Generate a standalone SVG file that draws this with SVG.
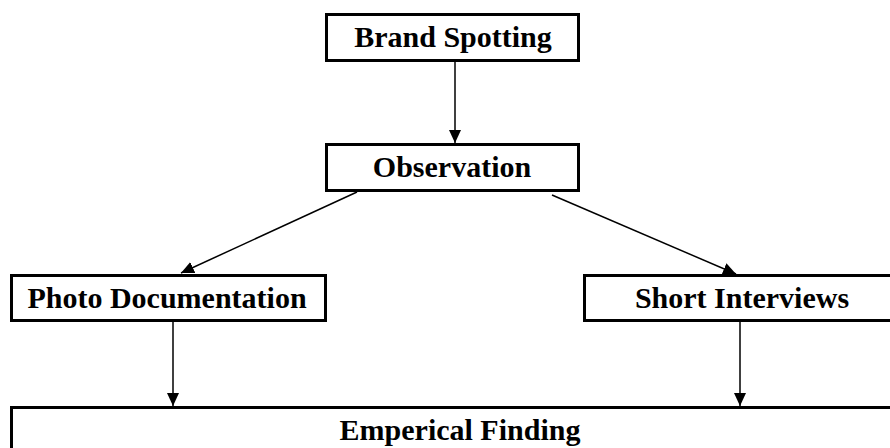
<svg xmlns="http://www.w3.org/2000/svg" width="890" height="448" viewBox="0 0 890 448">
<style>
.box{fill:#fff;stroke:#000;stroke-width:3}
.lbl{font-family:"Liberation Serif","Times New Roman",serif;font-weight:bold;font-size:30px;fill:#000;text-anchor:middle}
.edge{stroke:#000;stroke-width:1.5;fill:none;marker-end:url(#ah)}
</style>
<defs>
<marker id="ah" markerUnits="userSpaceOnUse" markerWidth="14" markerHeight="12" refX="13" refY="6" orient="auto">
<path d="M0,0 L13,6 L0,12 Z" fill="#000"/>
</marker>
</defs>
<rect width="890" height="448" fill="#fff"/>
<g id="connectors">
<line class="edge" x1="455" y1="62" x2="455" y2="143"/>
<line class="edge" x1="357" y1="192" x2="181" y2="273"/>
<line class="edge" x1="552" y1="195" x2="736" y2="274"/>
<line class="edge" x1="173" y1="322" x2="173" y2="406"/>
<line class="edge" x1="740" y1="322" x2="740" y2="406"/>
</g>
<g id="brand">
<rect class="box" x="326.5" y="14.5" width="252" height="46"/>
<text class="lbl" x="453" y="47">Brand Spotting</text>
</g>
<g id="observation">
<rect class="box" x="326.5" y="144.5" width="252" height="46"/>
<text class="lbl" x="452" y="177">Observation</text>
</g>
<g id="photo">
<rect class="box" x="11.5" y="275.5" width="314" height="45"/>
<text class="lbl" x="167" y="308">Photo Documentation</text>
</g>
<g id="short">
<rect class="box" x="584.5" y="275.5" width="310" height="45"/>
<text class="lbl" x="742" y="308">Short Interviews</text>
</g>
<g id="finding">
<rect class="box" x="11.5" y="407.5" width="885" height="50"/>
<text class="lbl" x="460" y="440">Emperical Finding</text>
</g>
</svg>
